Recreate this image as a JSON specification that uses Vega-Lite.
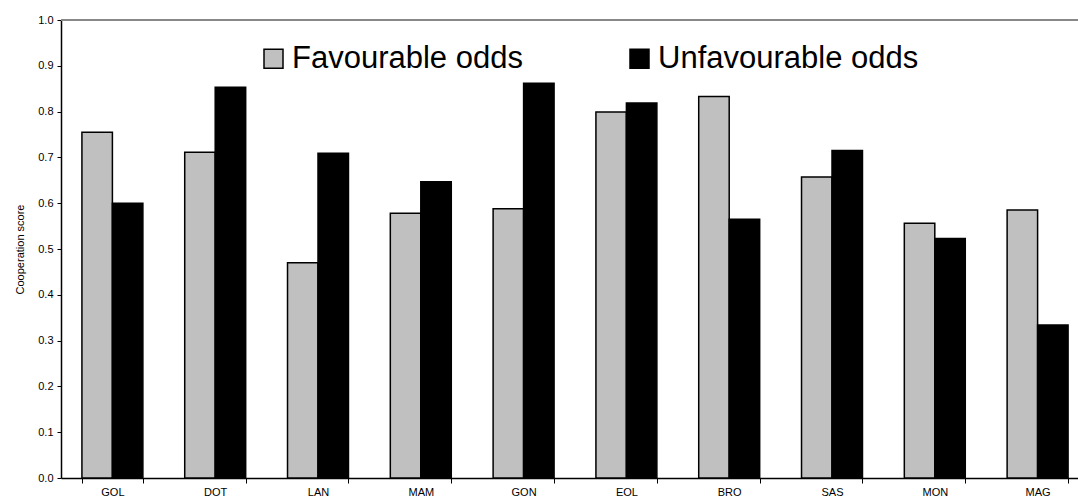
{
  "$schema": "https://vega.github.io/schema/vega-lite/v6.json",
  "autosize": "none",
  "width": 1017,
  "height": 458,
  "padding": {"left": 61, "top": 20, "right": 0, "bottom": 25},
  "background": "white",
  "config": {
    "font": "Liberation Sans",
    "view": {"stroke": null},
    "axis": {"grid": false, "domainColor": "#000000", "tickColor": "#000000", "labelColor": "#000000", "titleColor": "#000000", "labelFont": "Liberation Sans", "titleFont": "Liberation Sans"}
  },
  "data": {
    "values": [
      {"site": "GOL", "series": "Favourable odds", "score": 0.755},
      {"site": "GOL", "series": "Unfavourable odds", "score": 0.600},
      {"site": "DOT", "series": "Favourable odds", "score": 0.711},
      {"site": "DOT", "series": "Unfavourable odds", "score": 0.853},
      {"site": "LAN", "series": "Favourable odds", "score": 0.470},
      {"site": "LAN", "series": "Unfavourable odds", "score": 0.709},
      {"site": "MAM", "series": "Favourable odds", "score": 0.578},
      {"site": "MAM", "series": "Unfavourable odds", "score": 0.647},
      {"site": "GON", "series": "Favourable odds", "score": 0.588},
      {"site": "GON", "series": "Unfavourable odds", "score": 0.862},
      {"site": "EOL", "series": "Favourable odds", "score": 0.799},
      {"site": "EOL", "series": "Unfavourable odds", "score": 0.819},
      {"site": "BRO", "series": "Favourable odds", "score": 0.833},
      {"site": "BRO", "series": "Unfavourable odds", "score": 0.565},
      {"site": "SAS", "series": "Favourable odds", "score": 0.657},
      {"site": "SAS", "series": "Unfavourable odds", "score": 0.715},
      {"site": "MON", "series": "Favourable odds", "score": 0.556},
      {"site": "MON", "series": "Unfavourable odds", "score": 0.523},
      {"site": "MAG", "series": "Favourable odds", "score": 0.585},
      {"site": "MAG", "series": "Unfavourable odds", "score": 0.334}
    ]
  },
  "layer": [
    {
      "mark": {"type": "bar", "stroke": "#000000", "strokeWidth": 1.5},
      "encoding": {
        "x": {
          "field": "site", "type": "nominal", "sort": null,
          "scale": {"range": [0, 1028], "paddingInner": 0.407, "paddingOuter": 0.2035},
          "axis": {"title": null, "labelAngle": 0, "labelFontSize": 11, "tickBand": "extent", "tickSize": 5, "labelPadding": 3, "domainWidth": 1.5}
        },
        "xOffset": {"field": "series", "type": "nominal", "scale": {"domain": ["Favourable odds", "Unfavourable odds"], "paddingInner": 0}},
        "y": {
          "field": "score", "type": "quantitative",
          "scale": {"domain": [0, 1], "nice": false},
          "axis": {"title": "Cooperation score", "titleFontSize": 11, "titleFontWeight": "normal", "titlePadding": 12, "values": [0, 0.1, 0.2, 0.3, 0.4, 0.5, 0.6, 0.7, 0.8, 0.9, 1.0], "format": ".1f", "labelFontSize": 11, "tickSize": 4, "labelPadding": 4, "domainWidth": 1.5}
        },
        "color": {
          "field": "series", "type": "nominal",
          "scale": {"domain": ["Favourable odds", "Unfavourable odds"], "range": ["#c0c0c0", "#000000"]},
          "legend": {
            "title": null, "orient": "none", "legendX": 197, "legendY": 23, "direction": "horizontal",
            "symbolType": "square", "symbolSize": 361, "symbolStrokeColor": "#000000", "symbolStrokeWidth": 1.5, "symbolOpacity": 1,
            "labelFontSize": 31, "labelFont": "Liberation Sans", "labelColor": "#000000", "labelOffset": 3, "columnPadding": 101, "labelLimit": 500
          }
        }
      }
    },
    {
      "mark": {"type": "rule", "color": "#888888", "strokeWidth": 2},
      "encoding": {"y": {"datum": 1}}
    }
  ]
}
